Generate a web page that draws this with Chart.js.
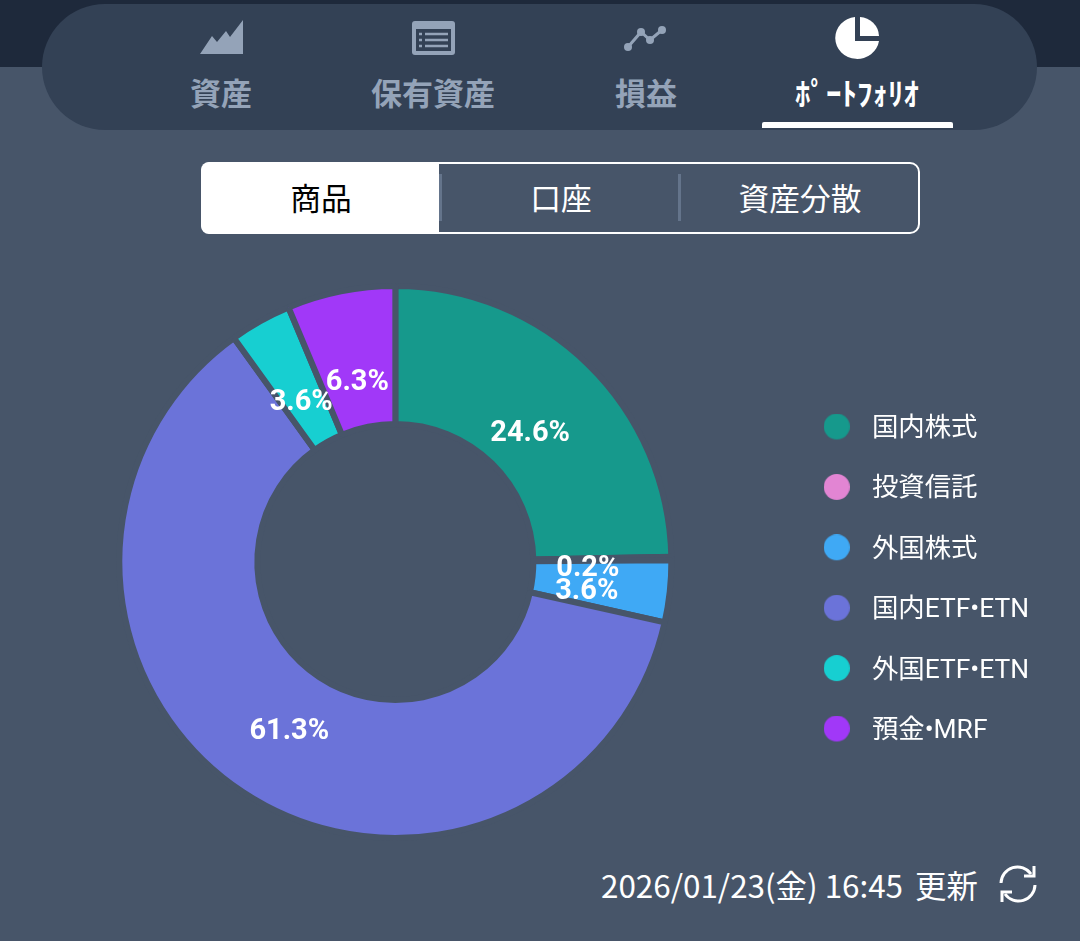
<!DOCTYPE html>
<html lang="ja"><head><meta charset="utf-8">
<script src="https://cdn.jsdelivr.net/npm/chart.js@4/dist/chart.umd.min.js"></script>
<style>
html,body{margin:0;padding:0;width:1080px;height:941px;overflow:hidden;background:#475569;font-family:"Noto Sans CJK JP","Noto Sans",sans-serif}
.band{position:absolute;left:0;top:0;width:1080px;height:67px;background:#1e293b}
.pill{position:absolute;left:42px;top:4px;width:995px;height:126px;border-radius:63px;background:#334155}
.tab{position:absolute;top:70px;font-size:31px;font-weight:700;line-height:44px;color:#94a3b8;text-align:center;white-space:nowrap}
.tab.on{color:#fff}
.ul{position:absolute;left:762px;top:122px;width:191px;height:6px;background:#fff;border-radius:2px 2px 0 0}
svg{position:absolute}
.seg{position:absolute;left:201px;top:162px;width:715px;height:68px;border:2px solid #fff;border-radius:10px;box-sizing:content-box}
.segon{position:absolute;left:201px;top:162px;width:238px;height:72px;background:#fff;border-radius:8px 0 0 8px}
.segt{position:absolute;top:174px;font-size:30.7px;line-height:46px;color:#fff;text-align:center;white-space:nowrap}
.sep{position:absolute;top:174px;width:3px;height:47px;background:#64748b}
#wrap{position:absolute;left:-40px;top:262px;width:1120px;height:600px}
.upd{position:absolute;left:601px;top:862px;font-size:31.4px;line-height:46px;color:#fff;white-space:nowrap}
</style></head><body>
<div class="band"></div><div class="pill"></div>
<svg style="left:199px;top:19px" width="46" height="36" viewBox="0 0 46 36"><path fill="#94a3b8" d="M1 35 L13 17 L18 23 L27 12 L31 18 L44 1 V35 Z"/></svg>
<svg style="left:411px;top:20px" width="45" height="36" viewBox="0 0 45 36"><rect x="1" y="1" width="43" height="34" rx="3" fill="#94a3b8"/><rect x="5" y="9" width="35" height="22" fill="#334155"/><path stroke="#94a3b8" stroke-width="2.5" d="M8 14h3M14 14h23M8 20h3M14 20h23M8 26h3M14 26h23"/></svg>
<svg style="left:623px;top:24px" width="45" height="28" viewBox="0 0 45 28"><path fill="none" stroke="#94a3b8" stroke-width="3" d="M5 23 L18 8 L27 16 L39 6"/><g fill="#94a3b8"><circle cx="5" cy="23" r="4"/><circle cx="18" cy="8" r="4"/><circle cx="27" cy="16" r="4"/><circle cx="39" cy="6" r="4"/></g></svg>
<svg style="left:835px;top:15px" width="46" height="46" viewBox="0 0 46 46"><path fill="#fff" d="M20 2 V26 H44 A22 21 0 1 1 20 2 Z"/><path fill="#fff" d="M25 2 A20 20 0 0 1 44 21 H25 Z"/></svg>
<div class="tab" style="left:171px;width:100px">資産</div>
<div class="tab" style="left:353px;width:160px">保有資産</div>
<div class="tab" style="left:596px;width:100px">損益</div>
<div class="tab on" style="left:757px;width:200px">ﾎﾟｰﾄﾌｫﾘｵ</div>
<div class="ul"></div>
<div class="seg"></div><div class="segon"></div>
<div class="sep" style="left:439px"></div><div class="sep" style="left:678px"></div>
<div class="segt" style="left:261px;width:120px;color:#000">商品</div>
<div class="segt" style="left:501px;width:120px">口座</div>
<div class="segt" style="left:720px;width:160px">資産分散</div>
<div id="wrap"><canvas id="c" width="1120" height="600"></canvas></div>
<div class="upd">2026/01/23(金) 16:45<span style="margin-left:12px">更新</span></div>
<svg style="left:998px;top:865px" width="40" height="38" viewBox="0 0 40 38" fill="none" stroke="#fff" stroke-width="3"><path d="M3 18 A16.5 16.5 0 0 1 33 9"/><path d="M37 20 A16.5 16.5 0 0 1 7 29"/><path d="M36 1 V11 H26"/><path d="M4 37 V27 H14"/></svg>
<script>
const categories = ["国内株式","投資信託","外国株式","国内ETF•ETN","外国ETF•ETN","預金•MRF"];
const seriesValues = [24.6,0.2,3.6,61.3,3.6,6.3];
const sliceColors = ["#16998c","#e285d3","#3fa9f5","#6b73d9","#17cfd1","#a138f8"];
function dot(color){
  const c = document.createElement("canvas"); c.width = 26; c.height = 32;
  const x = c.getContext("2d"); x.fillStyle = color;
  x.beginPath(); x.arc(13,13,13,0,Math.PI*2); x.fill();
  return c;
}
const labelPlugin = {
  id:"pct",
  afterDatasetsDraw(chart){
    const ctx = chart.ctx, meta = chart.getDatasetMeta(0);
    ctx.save();
    ctx.font = '700 29px Roboto, "Noto Sans", sans-serif';
    ctx.fillStyle = "#fff"; ctx.textAlign = "center"; ctx.textBaseline = "middle";
    meta.data.forEach((arc,i)=>{
      const a = (arc.startAngle+arc.endAngle)/2;
      const r = (arc.innerRadius+arc.outerRadius)/2*0.93;
      ctx.fillText(seriesValues[i].toFixed(1)+"%", arc.x+Math.cos(a)*r, arc.y+Math.sin(a)*r+9);
    });
    ctx.restore();
  }
};
new Chart(document.getElementById("c"),{
  type:"doughnut",
  data:{labels:categories,datasets:[{data:seriesValues,backgroundColor:sliceColors,borderColor:"#475569",borderWidth:6,hoverOffset:0}]},
  plugins:[labelPlugin],
  options:{
    responsive:false,animation:false,cutout:"50%",
    layout:{padding:{left:50,top:21,bottom:21,right:41}},
    plugins:{tooltip:{enabled:false},
      legend:{position:"right",align:"center",
        title:{display:true,text:"",padding:0,font:{size:37,lineHeight:1}},
        labels:{usePointStyle:true,pointStyleWidth:44,boxHeight:26,padding:34,color:"#fff",
          font:{size:26.4,family:'Roboto,"Noto Sans CJK JP"'},
          generateLabels(chart){
            return Chart.overrides.doughnut.plugins.legend.labels.generateLabels(chart)
              .map((it,i)=>({...it,pointStyle:dot(sliceColors[i])}));
          }}}}
  }
});
</script>
</body></html>
